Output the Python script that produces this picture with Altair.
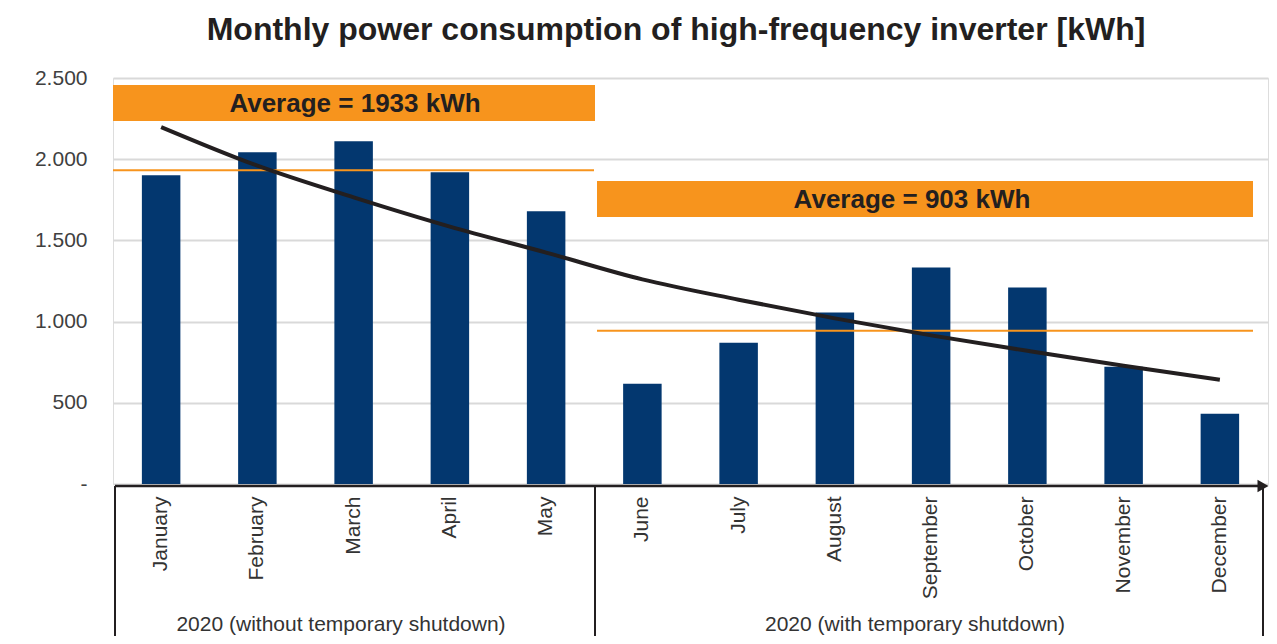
import altair as alt
import pandas as pd

months = ["January", "February", "March", "April", "May", "June", "July",
          "August", "September", "October", "November", "December"]
consumption = [1901, 2043, 2111, 1920, 1679, 617, 870, 1056, 1333, 1210, 722, 432]
trend = [2198, 1960, 1765, 1585, 1425, 1260, 1135, 1020, 915, 820, 728, 642]
avg_values = [1932, 944]
avg_labels = ["Average = 1933 kWh", "Average = 903 kWh"]
group_labels = ["2020 (without temporary shutdown)", "2020 (with temporary shutdown)"]
y_ticks = [0, 500, 1000, 1500, 2000, 2500]
title_text = "Monthly power consumption of high-frequency inverter [kWh]"

df = pd.DataFrame({"month": months, "kwh": consumption, "trend": trend})

W, H = 1155, 406
NAVY = "#03376F"
ORANGE = "#F7941D"
DARK = "#231F20"
FONT = "Liberation Sans"

xenc = alt.X(
    "month:N", sort=months,
    scale=alt.Scale(paddingInner=0.6, paddingOuter=0.3),
    axis=alt.Axis(title=None, labelAngle=-90, labelFontSize=21, labelColor="#333333",
                  labelPadding=12, ticks=False, domain=False, grid=False, labelFont=FONT),
)
yscale = alt.Scale(domain=[0, 2500], nice=False)
yaxis = alt.Axis(
    title=None, values=y_ticks, grid=True, gridColor="#d9d9d9", gridWidth=2,
    ticks=False, domain=False, labelFontSize=21, labelColor="#404040", labelPadding=26,
    labelFont=FONT,
    labelExpr="datum.value == 0 ? '-' : replace(format(datum.value, ','), ',', '.')",
)

bars = alt.Chart(df).mark_bar(color=NAVY).encode(
    x=xenc, y=alt.Y("kwh:Q", scale=yscale, axis=yaxis)
)

trend_line = alt.Chart(df).mark_line(color=DARK, strokeWidth=4, interpolate="monotone").encode(
    x=alt.X("month:N", sort=months), y=alt.Y("trend:Q", scale=yscale)
)

def one(col, val):
    return pd.DataFrame({col: [val]})

# average lines
avg1 = alt.Chart(one("v", avg_values[0])).mark_rule(color=ORANGE, strokeWidth=2).encode(
    y=alt.Y("v:Q", scale=yscale), x=alt.value(0), x2=alt.value(481))
avg2 = alt.Chart(one("v", avg_values[1])).mark_rule(color=ORANGE, strokeWidth=2).encode(
    y=alt.Y("v:Q", scale=yscale), x=alt.value(484), x2=alt.value(1140))

# average boxes
box1 = alt.Chart(one("t", avg_labels[0])).mark_rect(color=ORANGE).encode(
    x=alt.value(0), x2=alt.value(482), y=alt.value(7), y2=alt.value(43))
box2 = alt.Chart(one("t", avg_labels[1])).mark_rect(color=ORANGE).encode(
    x=alt.value(484), x2=alt.value(1140), y=alt.value(103), y2=alt.value(139))
txt1 = alt.Chart(one("t", avg_labels[0])).mark_text(
    fontSize=26, fontWeight="bold", color=DARK, font=FONT, align="center", baseline="middle"
).encode(text="t:N", x=alt.value(242), y=alt.value(26))
txt2 = alt.Chart(one("t", avg_labels[1])).mark_text(
    fontSize=26, fontWeight="bold", color=DARK, font=FONT, align="center", baseline="middle"
).encode(text="t:N", x=alt.value(799), y=alt.value(122))

# title
title = alt.Chart(one("t", title_text)).mark_text(
    fontSize=32, fontWeight="bold", color=DARK, font=FONT, align="center", baseline="middle"
).encode(text="t:N", x=alt.value(563), y=alt.value(-48))

# x axis line with arrow
axis_line = alt.Chart(one("t", "axis")).mark_rule(color=DARK, strokeWidth=2.5).encode(
    x=alt.value(2), x2=alt.value(1146), y=alt.value(408))
arrow = alt.Chart(one("t", "arrow")).mark_point(
    shape="triangle-right", filled=True, color=DARK, size=160, opacity=1
).encode(x=alt.value(1150), y=alt.value(408))

# group brackets
vlines = [
    alt.Chart(one("t", "v")).mark_rule(color=DARK, strokeWidth=2).encode(
        x=alt.value(xv), y=alt.value(408), y2=alt.value(560))
    for xv in (2, 482, 1150)
]
g1 = alt.Chart(one("t", group_labels[0])).mark_text(
    fontSize=21, color="#333333", font=FONT, align="center", baseline="alphabetic"
).encode(text="t:N", x=alt.value(228), y=alt.value(553))
g2 = alt.Chart(one("t", group_labels[1])).mark_text(
    fontSize=21, color="#333333", font=FONT, align="center", baseline="alphabetic"
).encode(text="t:N", x=alt.value(802), y=alt.value(553))

chart = alt.layer(
    bars, avg1, avg2, trend_line, box1, box2, txt1, txt2, title,
    axis_line, arrow, *vlines, g1, g2
).properties(
    width=W, height=H,
    autosize=alt.AutoSizeParams(type="none"),
    padding={"left": 105, "top": 70, "right": 1, "bottom": 152},
).configure_view(stroke=None).configure(background="white")

chart.save("out.html", embed_options={"renderer": "svg", "actions": False})
